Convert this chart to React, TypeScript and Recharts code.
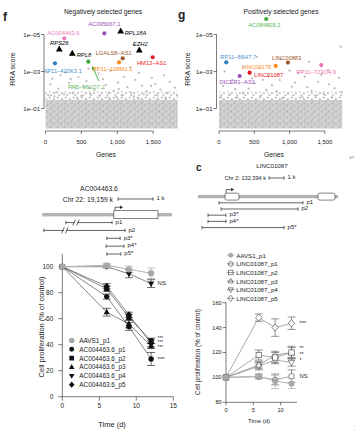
import React from 'react';
import {
  ScatterChart,
  Scatter,
  LineChart,
  Line,
  BarChart,
  Bar,
  XAxis,
  YAxis,
  ReferenceArea,
  ReferenceLine,
  ReferenceDot,
  ErrorBar,
  Legend,
} from 'recharts';

const FONT = '"Liberation Sans", Arial, Helvetica, sans-serif';
const INK = '#222';

// ---- f: negatively selected genes (labelled hits) ----
const negGenes = ['AC095067.1', 'RPL18A', 'AC004463.6', 'RPS26', 'EZH2', 'RPL8', 'LGALS8–AS1', 'HM13–AS1', 'RP11–128M1.1', 'RP5–961O7.2', 'RP11–420K3.1'];
const negRank = [819, 1047, 262, 192, 1306, 373, 1075, 1493, 1024, 596, 132];
const negRRA = [8.6e-6, 6.5e-6, 1.6e-5, 6.1e-5, 6.9e-5, 1.04e-4, 1.93e-4, 1.7e-4, 3.2e-4, 2.95e-4, 3.6e-4];

// remaining genes above the dense cloud
const negBgRank = [30, 95, 70, 210, 280, 330, 420, 460, 530, 570, 680, 740, 800, 840, 905, 950, 1010, 1090, 1140, 1190, 1250, 1300, 1345, 1410, 1480, 1530, 1600, 1650, 1730, 1800, 150, 260, 380, 500, 620, 760, 880, 1060, 1230, 1370, 1560, 1700, 40, 180, 610, 1470, 1830, 1020, 350, 1670, 880, 440, 1300, 600, 1180, 125, 990, 1560];
const negBgRRA = [1.1e-3, 2.4e-3, 5.0e-3, 1.6e-3, 1.1e-3, 4.2e-3, 8.0e-3, 2.0e-3, 6.5e-3, 3.3e-3, 1.0e-2, 1.3e-3, 2.6e-3, 5.4e-3, 9.0e-4, 1.1e-2, 4.0e-3, 2.0e-3, 7.0e-3, 1.4e-2, 2.8e-3, 1.2e-3, 5.8e-3, 1.2e-2, 2.2e-3, 4.6e-3, 9.5e-3, 1.6e-3, 3.6e-3, 7.5e-3, 1.3e-2, 1.7e-2, 1.5e-2, 2.1e-2, 1.6e-2, 2.0e-2, 1.4e-2, 1.9e-2, 2.2e-2, 1.7e-2, 2.0e-2, 1.5e-2, 1.9e-2, 8.5e-3, 7.8e-3, 6.0e-3, 1.9e-2, 9.0e-3, 2.6e-3, 2.6e-2, 2.6e-2, 2.7e-2, 2.9e-2, 7.0e-4, 6.0e-4, 2.2e-2, 2.4e-2, 3.0e-2];

// ---- g: positively selected genes ----
const posGenes = ['AC084809.2', 'RP11–86H7.7', 'LINC00883', 'LINC00176', 'RP11–723O4.9', 'LINC01087', 'DICER1–AS1'];
const posRank = [670, 103, 977, 803, 1449, 434, 293];
const posRRA = [1.45e-6, 3.2e-4, 3.3e-4, 5.0e-4, 4.5e-4, 1.16e-3, 1.75e-3];

const posBgRank = [1724, 874, 1275, 538, 354, 81, 1544, 1214, 191, 505, 862, 1034, 1402, 1638, 668, 340, 60, 1120, 1700, 980, 1310, 750, 420, 150, 1480, 1180, 590, 1600, 260, 900, 30, 1360, 700, 1450, 620, 1080, 1560, 470, 820, 1250, 230, 1740, 1000, 580];
const posBgRRA = [4.6e-5, 2.2e-4, 3.0e-4, 1.6e-4, 5.5e-4, 1.0e-3, 8.3e-4, 1.9e-3, 2.9e-3, 4.3e-3, 2.9e-3, 6.6e-3, 3.6e-3, 8.1e-3, 1.0e-2, 1.5e-2, 6.0e-3, 1.2e-3, 2.2e-3, 1.5e-2, 1.1e-2, 5.5e-3, 8.5e-3, 1.8e-2, 1.6e-2, 2.4e-2, 2.2e-2, 2.5e-2, 2.6e-2, 2.7e-2, 2.5e-2, 2.0e-2, 1.8e-3, 1.5e-3, 2.8e-3, 4.0e-3, 5.0e-3, 2.4e-3, 1.2e-2, 7.0e-3, 9.0e-3, 1.3e-2, 9.0e-4, 6.5e-4];

// ---- AC004463.6 proliferation ----
const timeDays = [0, 6, 9, 12];
const acAAVS1 = [100, 101, 98, 95];
const acAAVS1Err = [0, 1.5, 2.5, 4];
const acP1 = [100, 77, 54, 29];
const acP1Err = [0, 2, 3, 5];
const acP2 = [100, 83, 61, 43];
const acP2Err = [0, 2, 2.5, 2];
const acP3 = [100, 65, 56, 39];
const acP3Err = [0, 3, 3, 2];
const acP4 = [100, 100, 94.5, 87];
const acP4Err = [0, 1, 3, 3];
const acP5 = [100, 85, 63, 41];
const acP5Err = [0, 2, 2, 2.5];
const acSigText = ['***', '***', '***', '***', 'NS'];
const acSigAt = [45.2, 41.6, 38, 28.8, 87.5];
const acSigSize = [4.6, 4.6, 4.6, 6, 6];

// ---- LINC01087 proliferation ----
const lcAAVS1 = [100, 101, 97, 95];
const lcAAVS1Err = [0, 2, 6, 4];
const lcP1 = [100, 100.5, 98, 101];
const lcP1Err = [0, 1.5, 4, 5];
const lcP2 = [100, 118, 116, 120];
const lcP2Err = [0, 4, 4, 5];
const lcP3 = [100, 110, 118, 120];
const lcP3Err = [0, 3, 3, 4];
const lcP4 = [100, 109, 114, 112];
const lcP4Err = [0, 3, 3, 3];
const lcP5 = [100, 148, 140, 143.5];
const lcP5Err = [0, 3, 7, 5];
const lcSigText = ['***', '**', '**', '*', 'NS'];
const lcSigAt = [143.5, 123.6, 118.6, 113.8, 101];
const lcSigSize = [5.8, 5.2, 5.2, 5.2, 5.8];

// ---- gene models (kb) ----
const acRows = ['1 k', ' ', 'AC004463.6', 'p1', 'p2', 'p3*', 'p4*', 'p5*'];
const acKinds = ['scale', 'gap', 'gene', 'primer', 'primer', 'primer', 'primer', 'primer'];
const acStart = [2.23, null, 0.06, 0.74, 0.11, 1.91, 1.89, 1.91];
const acEnd = [3.23, null, 3.77, 2.06, 2.43, 2.29, 2.4, 2.31];
const acBreak = [null, null, null, 1.03, 0.71, null, null, null];
const acExons = [[2.11, 3.37]];

const lcRows = ['1 k', ' ', '  ', 'LINC01087', 'p1', 'p2', 'p3*', 'p4*', 'p5*'];
const lcKinds = ['scale', 'gap', 'gap', 'gene', 'primer', 'primer', 'primer', 'primer', 'primer'];
const lcStart = [4.87, null, null, 0.13, 1.53, 1.67, 0.8, 0.8, 0.4];
const lcEnd = [5.87, null, null, 9.47, 7.13, 6.8, 2.0, 2.0, 5.87];
const lcExons = [[1.93, 2.87], [8.13, 9.27]];

// ---------------------------------------------------------------

type HitStyle = { color: string; text?: string; dx: number; dy: number; anchor: 'start' | 'middle' | 'end'; tri?: boolean };

const negStyle: Record<string, HitStyle> = {
  'AC095067.1': { color: '#9b4fb8', dx: 0, dy: -7.5, anchor: 'middle' },
  RPL18A: { color: '#000', dx: 4, dy: 3.5, anchor: 'start', tri: true },
  'AC004463.6': { color: '#f07bbf', dx: -1, dy: -3.2, anchor: 'middle' },
  RPS26: { color: '#000', dx: 0, dy: -3.8, anchor: 'middle', tri: true },
  EZH2: { color: '#000', dx: 1, dy: -4.2, anchor: 'middle', tri: true },
  RPL8: { color: '#000', dx: 4.4, dy: 3.5, anchor: 'start', tri: true },
  'LGALS8–AS1': { color: '#a0562e', dx: -9, dy: -3.5, anchor: 'middle' },
  'HM13–AS1': { color: '#e8262a', dx: -1, dy: 7.5, anchor: 'middle' },
  'RP11–128M1.1': { color: '#ff8c1a', dx: -6.5, dy: 8.5, anchor: 'middle' },
  'RP5–961O7.2': { color: '#3aa935', text: '#5cb85c', dx: -2, dy: 27, anchor: 'middle' },
  'RP11–420K3.1': { color: '#2f7fc1', text: '#4a8fcc', dx: 7.5, dy: 9.2, anchor: 'middle' },
};

const posStyle: Record<string, HitStyle> = {
  'AC084809.2': { color: '#3aa935', text: '#5cb85c', dx: -2, dy: 8.5, anchor: 'middle' },
  'RP11–86H7.7': { color: '#2f7fc1', text: '#4a8fcc', dx: 12, dy: -3.1, anchor: 'middle' },
  LINC00883: { color: '#a0562e', dx: -1.3, dy: -2.9, anchor: 'middle' },
  LINC00176: { color: '#ff8c1a', dx: -4.5, dy: 3.2, anchor: 'end' },
  'RP11–723O4.9': { color: '#f06fb6', dx: -5, dy: 8.5, anchor: 'middle' },
  LINC01087: { color: '#e3161b', dx: 4.3, dy: 3.8, anchor: 'start' },
  'DICER1–AS1': { color: '#9b4fb8', dx: -2.4, dy: 8.2, anchor: 'middle' },
};

const negHits = negGenes.map((name, i) => ({ name, x: negRank[i], y: negRRA[i] }));
const negBg = negBgRank.map((x, i) => ({ x, y: negBgRRA[i] }));
const posHits = posGenes.map((name, i) => ({ name, x: posRank[i], y: posRRA[i] }));
const posBg = posBgRank.map((x, i) => ({ x, y: posBgRRA[i] }));

const thousands = (v: number) => v.toLocaleString('en-US');
const sci = (v: number) => {
  const e = Math.round(Math.log10(v));
  return `1e${e < 0 ? '–' : '+'}${String(Math.abs(e)).padStart(2, '0')}`;
};

const greyDot = (p: any) => <circle cx={p.cx} cy={p.cy} r={1.15} fill="#bdbdbd" />;

const hitShape = (styles: Record<string, HitStyle>) => (p: any) => {
  const s = styles[p.payload.name];
  const { cx, cy } = p;
  return (
    <g>
      {s.tri ? (
        <polygon points={`${cx},${cy - 3.6} ${cx + 3.4},${cy + 2.4} ${cx - 3.4},${cy + 2.4}`} fill="#000" />
      ) : (
        <circle cx={cx} cy={cy} r={2.1} fill={s.color} />
      )}
      <text
        x={cx + s.dx}
        y={cy + s.dy}
        textAnchor={s.anchor}
        fontSize={5.8}
        fontFamily={FONT}
        fontStyle={s.tri ? 'italic' : 'normal'}
        fill={s.text ?? s.color}
      >
        {p.payload.name}
      </text>
    </g>
  );
};

const arrowShape = (p: any) => {
  const { x1, y1, x2, y2 } = p;
  if ([x1, y1, x2, y2].some((v) => typeof v !== 'number')) return null;
  const a = Math.atan2(y2 - y1, x2 - x1);
  const L = 4;
  const W = 1.8;
  const bx = x2 - L * Math.cos(a);
  const by = y2 - L * Math.sin(a);
  const nx = -Math.sin(a) * W;
  const ny = Math.cos(a) * W;
  return (
    <g>
      <line x1={x1} y1={y1} x2={bx} y2={by} stroke="#3aa935" strokeWidth={0.9} />
      <polygon points={`${x2},${y2} ${bx + nx},${by + ny} ${bx - nx},${by - ny}`} fill="#3aa935" />
    </g>
  );
};

const axisTick = { fontSize: 6, fill: INK, fontFamily: FONT };
const thin = { stroke: INK, strokeWidth: 0.6 };

type ScreenProps = {
  hits: any[];
  bg: any[];
  styles: Record<string, HitStyle>;
  xMin: number;
  xMax: number;
  cloudEnd: number;
  width: number;
  yAxisWidth: number;
  right: number;
  arrow?: boolean;
};

const ScreenPlot = ({ hits, bg, styles, xMin, xMax, cloudEnd, width, yAxisWidth, right, arrow }: ScreenProps) => (
  <ScatterChart width={width} height={160} margin={{ top: 16, right, bottom: 9, left: 0 }}>
    <XAxis
      type="number"
      dataKey="x"
      domain={[xMin, xMax]}
      ticks={[0, 500, 1000, 1500]}
      tickFormatter={thousands}
      allowDataOverflow
      axisLine={false}
      tickLine={thin}
      tickSize={3}
      tickMargin={6}
      tick={axisTick}
      height={20}
    />
    <YAxis
      type="number"
      dataKey="y"
      scale="log"
      domain={[1e-6, 1.64]}
      reversed
      allowDataOverflow
      ticks={[1e-5, 1e-3, 1e-1]}
      tickFormatter={sci}
      axisLine={false}
      tickLine={thin}
      tickSize={3}
      tickMargin={1}
      tick={axisTick}
      width={yAxisWidth}
    />
    <ReferenceArea x1={0} x2={cloudEnd} y1={0.012} y2={0.035} fill="url(#cloudMid)" fillOpacity={1} stroke="none" />
    <ReferenceArea x1={0} x2={cloudEnd} y1={0.035} y2={1.2} fill="url(#cloudDense)" fillOpacity={1} stroke="none" />
    <ReferenceLine segment={[{ x: xMin, y: 1e-5 }, { x: xMin, y: 0.1 }]} stroke={INK} strokeWidth={0.6} ifOverflow="visible" />
    <ReferenceLine segment={[{ x: 0, y: 1.64 }, { x: 1500, y: 1.64 }]} stroke={INK} strokeWidth={0.6} ifOverflow="visible" />
    <Scatter data={bg} shape={greyDot} isAnimationActive={false} />
    {arrow && (
      <ReferenceLine
        segment={[{ x: 745, y: 3.27e-3 }, { x: 648, y: 5.0e-4 }]}
        shape={arrowShape}
        ifOverflow="visible"
      />
    )}
    <Scatter data={hits} shape={hitShape(styles)} isAnimationActive={false} />
  </ScatterChart>
);

// ---- line charts ----

type Series = {
  key: string;
  name: string;
  shape: string;
  size: number;
  fill: string;
  stroke: string;
  line: string;
  lw: number;
  err: string;
};

const Marker = ({ shape, cx, cy, s, fill, stroke, sw = 0.7 }: any) => {
  if (typeof cx !== 'number' || typeof cy !== 'number') return null;
  const c = { fill, stroke, strokeWidth: sw };
  switch (shape) {
    case 'square':
      return <rect x={cx - s} y={cy - s} width={2 * s} height={2 * s} {...c} />;
    case 'triangle':
      return <polygon points={`${cx},${cy - s * 1.25} ${cx + s * 1.15},${cy + s * 0.8} ${cx - s * 1.15},${cy + s * 0.8}`} {...c} />;
    case 'triangleDown':
      return <polygon points={`${cx},${cy + s * 1.25} ${cx + s * 1.15},${cy - s * 0.8} ${cx - s * 1.15},${cy - s * 0.8}`} {...c} />;
    case 'diamond':
      return <polygon points={`${cx},${cy - s * 1.3} ${cx + s * 1.15},${cy} ${cx},${cy + s * 1.3} ${cx - s * 1.15},${cy}`} {...c} />;
    default:
      return <circle cx={cx} cy={cy} r={s} {...c} />;
  }
};

const filled = (key: string, name: string, shape: string, size: number): Series => ({
  key, name, shape, size, fill: '#111', stroke: 'none', line: '#555', lw: 0.7, err: '#333',
});
const open = (key: string, name: string, shape: string, size: number): Series => ({
  key, name, shape, size, fill: '#fff', stroke: '#555', line: '#858585', lw: 0.7, err: '#666',
});

const acSeries: Series[] = [
  { key: 'aavs1', name: 'AAVS1_p1', shape: 'circle', size: 3.1, fill: '#a8a8a8', stroke: 'none', line: '#b4b4b4', lw: 1.1, err: '#a8a8a8' },
  filled('p1', 'AC004463.6_p1', 'circle', 2.7),
  filled('p2', 'AC004463.6_p2', 'square', 2.6),
  filled('p3', 'AC004463.6_p3', 'triangle', 2.7),
  filled('p4', 'AC004463.6_p4', 'triangleDown', 2.7),
  filled('p5', 'AC004463.6_p5', 'diamond', 2.7),
];

const lcSeries: Series[] = [
  { key: 'aavs1', name: 'AAVS1_p1', shape: 'circle', size: 2.9, fill: '#a8a8a8', stroke: 'none', line: '#b8b8b8', lw: 1, err: '#a8a8a8' },
  open('p1', 'LINC01087_p1', 'circle', 2.8),
  open('p2', 'LINC01087_p2', 'square', 2.7),
  open('p3', 'LINC01087_p3', 'triangle', 2.7),
  open('p4', 'LINC01087_p4', 'triangleDown', 2.7),
  open('p5', 'LINC01087_p5', 'diamond', 2.8),
];

const acData = timeDays.map((t, i) => ({
  t,
  aavs1: acAAVS1[i], aavs1E: acAAVS1Err[i],
  p1: acP1[i], p1E: acP1Err[i],
  p2: acP2[i], p2E: acP2Err[i],
  p3: acP3[i], p3E: acP3Err[i],
  p4: acP4[i], p4E: acP4Err[i],
  p5: acP5[i], p5E: acP5Err[i],
}));

const lcData = timeDays.map((t, i) => ({
  t,
  aavs1: lcAAVS1[i], aavs1E: lcAAVS1Err[i],
  p1: lcP1[i], p1E: lcP1Err[i],
  p2: lcP2[i], p2E: lcP2Err[i],
  p3: lcP3[i], p3E: lcP3Err[i],
  p4: lcP4[i], p4E: lcP4Err[i],
  p5: lcP5[i], p5E: lcP5Err[i],
}));

const LegendBlock = ({ payload, series, rowH, markerX, textX, fontSize, withLine }: any) => {
  const order = (k: string) => series.findIndex((s: Series) => s.key === k);
  const items = [...(payload ?? [])].sort((a: any, b: any) => order(a.dataKey) - order(b.dataKey));
  return (
    <svg width={textX + 60} height={rowH * items.length + 2} style={{ overflow: 'visible', display: 'block' }}>
      {items.map((it: any, i: number) => {
        const s: Series = series[order(it.dataKey)];
        const cy = rowH / 2 + i * rowH;
        return (
          <g key={it.dataKey}>
            <Marker shape={s.shape} cx={markerX} cy={cy} s={withLine ? s.size * 0.85 : s.size * 0.9} fill={withLine && s.fill === '#fff' ? 'none' : s.fill} stroke={s.stroke} />
            {withLine && <line x1={markerX - 3.8} x2={markerX + 3.8} y1={cy} y2={cy} stroke={s.stroke === 'none' ? s.fill : s.stroke} strokeWidth={0.6} />}
            <text x={textX} y={cy} dominantBaseline="central" fontSize={fontSize} fontFamily={FONT} fill={INK}>
              {it.value}
            </text>
          </g>
        );
      })}
    </svg>
  );
};

const renderLines = (series: Series[]) =>
  [...series].reverse().map((s) => (
    <Line
      key={s.key}
      dataKey={s.key}
      name={s.name}
      stroke={s.line}
      strokeWidth={s.lw}
      isAnimationActive={false}
      activeDot={false}
      dot={(p: any) => (
        <Marker key={`${s.key}-${p.index}`} shape={s.shape} cx={p.cx} cy={p.cy} s={s.size} fill={s.fill} stroke={s.stroke} />
      )}
    >
      <ErrorBar dataKey={`${s.key}E`} width={4} stroke={s.err} strokeWidth={0.7} direction="y" />
    </Line>
  ));

const sigDots = (texts: string[], at: number[], sizes: number[], offset: number) =>
  texts.map((txt, i) => (
    <ReferenceDot
      key={`sig-${i}`}
      x={12}
      y={at[i]}
      r={0}
      fill="none"
      stroke="none"
      ifOverflow="visible"
      label={{ value: txt, position: 'right', offset, fontSize: sizes[i], fill: INK, fontFamily: FONT }}
    />
  ));

// ---- gene model rows ----

const buildTrack = (rows: string[], kinds: string[], start: (number | null)[], end: (number | null)[], brk: (number | null)[], exons: number[][]) =>
  rows.map((row, i) => ({
    row,
    kind: kinds[i],
    range: start[i] == null ? null : [start[i], end[i]],
    brk: brk[i],
    exons: kinds[i] === 'gene' ? exons : null,
  }));

const acTrack = buildTrack(acRows, acKinds, acStart, acEnd, acBreak, acExons);
const lcTrack = buildTrack(lcRows, lcKinds, lcStart, lcEnd, lcStart.map(() => null), lcExons);

const trackShape = (opts: { rounded: number; boxH: number; labelSize: number }) => (p: any) => {
  const { x, y, width, height, payload } = p;
  if (!payload || !payload.range || !(width > 0)) return null;
  const [s, e] = payload.range;
  const k = width / (e - s);
  const px = (v: number) => x + (v - s) * k;
  const cy = y + height / 2;
  const ln = { stroke: '#222', strokeWidth: 0.7 };
  if (payload.kind === 'gene') {
    const tx = px(payload.exons[0][0]) + 1.2;
    const top = cy - opts.boxH / 2;
    return (
      <g>
        <rect x={x} y={cy - 1.7} width={width} height={3.4} fill="#b3b3b3" />
        {payload.exons.map(([a, b]: number[], j: number) => (
          <rect key={j} x={px(a)} y={top} width={px(b) - px(a)} height={opts.boxH} rx={opts.rounded} fill="#fff" stroke="#333" strokeWidth={0.6} />
        ))}
        <path d={`M${tx},${top} V${top - 3.5} H${tx + 5.5}`} fill="none" {...ln} />
        <polygon points={`${tx + 8},${top - 3.5} ${tx + 5},${top - 5.2} ${tx + 5},${top - 1.8}`} fill="#222" />
      </g>
    );
  }
  const x2 = x + width;
  const gapX = payload.brk == null ? null : px(payload.brk);
  return (
    <g>
      <line x1={x} x2={x2} y1={cy} y2={cy} {...ln} />
      <line x1={x} x2={x} y1={cy - 1.7} y2={cy + 1.7} {...ln} />
      <line x1={x2} x2={x2} y1={cy - 1.7} y2={cy + 1.7} {...ln} />
      {gapX != null && (
        <g>
          <rect x={gapX - 1.2} y={cy - 1} width={2.4} height={2} fill="#fff" />
          <line x1={gapX - 3.2} y1={cy + 3} x2={gapX - 0.6} y2={cy - 3} {...ln} />
          <line x1={gapX + 0.6} y1={cy + 3} x2={gapX + 3.2} y2={cy - 3} {...ln} />
        </g>
      )}
      <text x={x2 + 3.5} y={cy - 0.8} dominantBaseline="central" fontSize={opts.labelSize} fontFamily={FONT} fill={INK}>
        {payload.row}
      </text>
    </g>
  );
};

const GeneModel = ({ data, width, height, maxKb, rounded, boxH }: any) => (
  <BarChart layout="vertical" width={width} height={height} data={data} margin={{ top: 0, right: 0, bottom: 0, left: 0 }} barCategoryGap={0}>
    <XAxis type="number" domain={[0, maxKb]} allowDataOverflow hide />
    <YAxis type="category" dataKey="row" hide />
    <Bar dataKey="range" isAnimationActive={false} shape={trackShape({ rounded, boxH, labelSize: 6 })} />
  </BarChart>
);

const T = ({ x, y, size = 6.5, anchor = 'middle', rotate, bold, color = INK, children }: any) => (
  <text
    x={x}
    y={y}
    fontSize={size}
    fontFamily={FONT}
    fontWeight={bold ? 700 : 400}
    textAnchor={anchor}
    dominantBaseline="central"
    fill={color}
    transform={rotate ? `rotate(${rotate} ${x} ${y})` : undefined}
  >
    {children}
  </text>
);

const at = (left: number, top: number): React.CSSProperties => ({ position: 'absolute', left, top });

export default function App() {
  return (
    <div style={{ position: 'absolute', left: 0, top: 0, width: 358, height: 438, background: '#fff', overflow: 'hidden', fontFamily: FONT }}>
      <svg width={0} height={0} style={{ position: 'absolute' }}>
        <defs>
          <pattern id="cloudDense" width={7} height={6} patternUnits="userSpaceOnUse">
            <rect width={7} height={6} fill="#d0d0d0" />
            <circle cx={1.5} cy={1.4} r={1.15} fill="#bbbbbb" />
            <circle cx={5.2} cy={3.4} r={1.15} fill="#bbbbbb" />
            <circle cx={2.6} cy={4.9} r={1.05} fill="#c2c2c2" />
            <circle cx={4.6} cy={0.6} r={0.45} fill="#ececec" />
            <circle cx={0.4} cy={3.6} r={0.45} fill="#ececec" />
          </pattern>
          <pattern id="cloudMid" width={8} height={6} patternUnits="userSpaceOnUse">
            <circle cx={1.8} cy={1.6} r={1.15} fill="#c0c0c0" />
            <circle cx={5.9} cy={3.1} r={1.15} fill="#c0c0c0" />
            <circle cx={3.2} cy={5} r={1.1} fill="#c6c6c6" />
          </pattern>
        </defs>
      </svg>

      <div style={at(0, 0)}>
        <ScreenPlot hits={negHits} bg={negBg} styles={negStyle} xMin={-21} xMax={1887} cloudEnd={1840} width={190} yAxisWidth={44} right={9} arrow />
      </div>
      <div style={at(170, 0)}>
        <ScreenPlot hits={posHits} bg={posBg} styles={posStyle} xMin={-35} xMax={1799} cloudEnd={1745} width={180} yAxisWidth={46.5} right={4} />
      </div>

      <div style={at(40, 195.07)}>
        <GeneModel data={acTrack} width={135} height={62.9} maxKb={3.857} rounded={0} boxH={8} />
      </div>
      <div style={at(196, 175.3)}>
        <GeneModel data={lcTrack} width={146} height={55.8} maxKb={9.733} rounded={2} boxH={7} />
      </div>

      <div style={at(0, 245)}>
        <LineChart width={185} height={185} data={acData} margin={{ top: 8.7, right: 11.7, bottom: 13.3, left: 32.3 }}>
          <XAxis type="number" dataKey="t" domain={[0, 15]} ticks={[0, 5, 10, 15]} axisLine={thin} tickLine={thin} tickSize={4} tickMargin={3} tick={{ ...axisTick, fontSize: 6.5 }} height={20} />
          <YAxis type="number" domain={[0, 110]} ticks={[0, 20, 40, 60, 80, 100]} axisLine={thin} tickLine={thin} tickSize={4} tickMargin={5} tick={{ ...axisTick, fontSize: 6.5 }} width={30} />
          <Legend
            layout="vertical"
            align="center"
            verticalAlign="middle"
            wrapperStyle={{ left: 64, top: 91, width: 90, height: 56 }}
            content={(props: any) => <LegendBlock {...props} series={acSeries} rowH={8.85} markerX={7.7} textX={15.3} fontSize={6.4} />}
          />
          {renderLines(acSeries)}
          {sigDots(acSigText, acSigAt, acSigSize, 6.5)}
        </LineChart>
      </div>

      <div style={at(180, 245)}>
        <LineChart width={130} height={185} data={lcData} margin={{ top: 57.7, right: 13, bottom: 9.7, left: 16 }}>
          <XAxis type="number" dataKey="t" domain={[0, 13]} ticks={[0, 5, 10]} axisLine={thin} tickLine={thin} tickSize={3} tickMargin={2.5} tick={{ ...axisTick, fontSize: 5.6 }} height={18} />
          <YAxis type="number" domain={[80, 160]} ticks={[80, 100, 120, 140, 160]} axisLine={thin} tickLine={thin} tickSize={3.3} tickMargin={1} tick={{ ...axisTick, fontSize: 5.6 }} width={30} />
          <Legend
            layout="vertical"
            align="center"
            verticalAlign="middle"
            wrapperStyle={{ left: 44, top: 6, width: 80, height: 54 }}
            content={(props: any) => <LegendBlock {...props} series={lcSeries} rowH={8.6} markerX={6.7} textX={12.2} fontSize={6.2} withLine />}
          />
          {renderLines(lcSeries)}
          {sigDots(lcSigText, lcSigAt, lcSigSize, 8)}
        </LineChart>
      </div>

      <svg width={358} height={438} style={{ position: 'absolute', left: 0, top: 0, pointerEvents: 'none' }}>
        <T x={3} y={17} size={12} bold anchor="start">f</T>
        <T x={178} y={15} size={12} bold anchor="start">g</T>
        <T x={196} y={167} size={10} bold anchor="start">c</T>

        <T x={103} y={11} size={6.7}>Negatively selected genes</T>
        <T x={281} y={11} size={6.7}>Positively selected genes</T>
        <T x={12} y={69} size={7} rotate={-90}>RRA score</T>
        <T x={187} y={69} size={7} rotate={-90}>RRA score</T>
        <T x={106} y={154} size={6.8}>Genes</T>
        <T x={274} y={154} size={6.8}>Genes</T>

        <T x={99} y={188.5} size={6.8}>AC004463.6</T>
        <T x={113} y={199.5} size={6.8} anchor="end">Chr 22: 19,159 k</T>
        <T x={272} y={165} size={6.2}>LINC01087</T>
        <T x={266} y={177.5} size={5.6} anchor="end">Chr 2: 132,394 k</T>

        <T x={41} y={327} size={7.5} rotate={-90}>Cell proliferation (% of control)</T>
        <T x={112} y={424} size={7.5}>Time (d)</T>
        <T x={197} y={352} size={6.4} rotate={-90}>Cell proliferation (% of control)</T>
        <T x={259} y={421} size={6}>Time (d)</T>

        <T x={352} y={157} size={7} color="#999">↵</T>
        <T x={354} y={427} size={7} color="#999">:</T>
      </svg>
    </div>
  );
}
